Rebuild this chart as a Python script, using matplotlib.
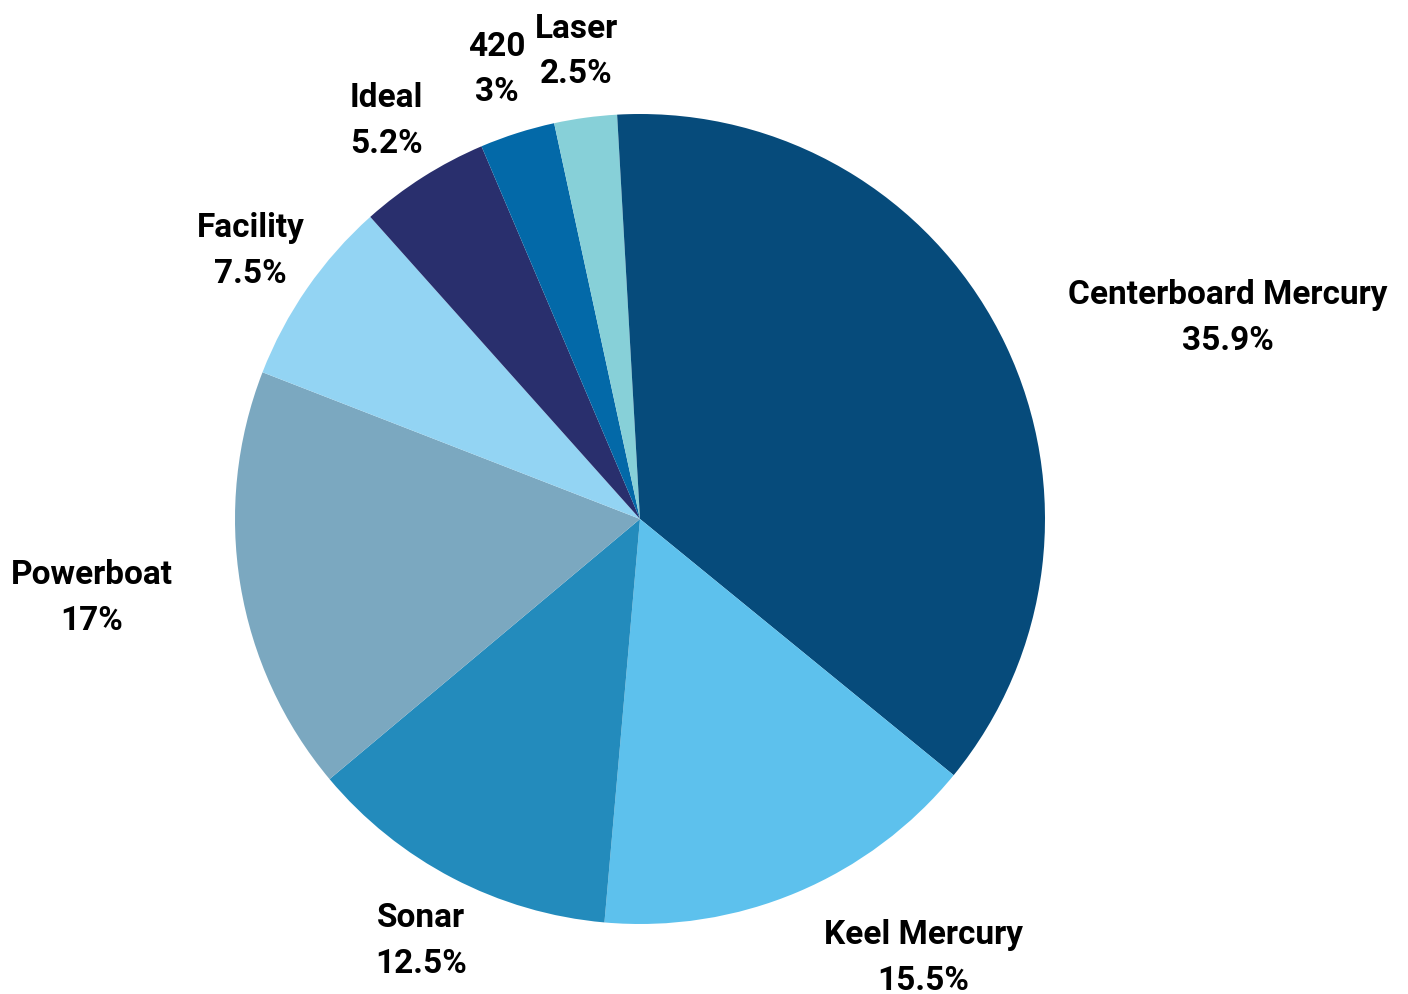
import numpy as np
import matplotlib.pyplot as plt

# slice data, clockwise from 12 o'clock
labels = ['Centerboard Mercury', 'Keel Mercury', 'Sonar', 'Powerboat',
          'Facility', 'Ideal', '420', 'Laser', '']
values = [35.9, 15.5, 12.5, 17, 7.5, 5.2, 3, 2.5, 0.9]
pct_text = ['35.9%', '15.5%', '12.5%', '17%', '7.5%', '5.2%', '3%', '2.5%', '']
colors = ['#064b7b', '#5dc1ed', '#238bbc', '#7ba8c0', '#93d4f3',
          '#292f6d', '#0369a8', '#87d0d8', '#064b7b']

plt.rcParams['font.family'] = ['Roboto', 'DejaVu Sans']

fig = plt.figure(figsize=(14.08, 9.95), dpi=100)
ax = fig.add_axes([0, 0, 1, 1])

R = 405
wedges, _ = ax.pie(values, colors=colors, startangle=90, counterclock=False,
                   radius=R, center=(0, 0),
                   wedgeprops=dict(linewidth=0))

# labels placed outside along the mid-angle of each wedge
for w, lab, pct in zip(wedges, labels, pct_text):
    if not lab:
        continue
    ang = np.deg2rad((w.theta1 + w.theta2) / 2)
    x = 1.17 * R * np.cos(ang)
    y = 1.17 * R * np.sin(ang) - 1
    c = np.cos(ang)
    if c > 0.3:
        ha = 'left'
    elif c < -0.9:
        ha = 'right'
    else:
        ha = 'center'
    ax.text(x, y, lab + '\n' + pct, ha=ha, va='center', multialignment='center',
            fontsize=24, fontweight='bold', color='black', linespacing=1.55)

ax.set_xlim(-640, 768)
ax.set_ylim(-475, 520)
ax.set_aspect('equal')
ax.axis('off')

fig.savefig('out.png', dpi=100)
